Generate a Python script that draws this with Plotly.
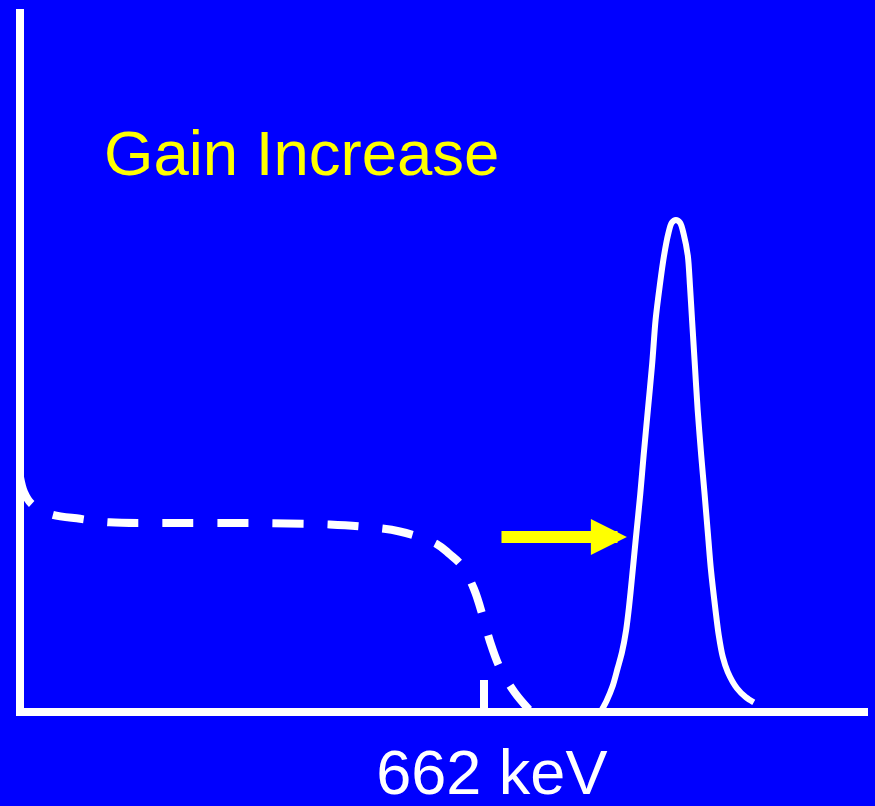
import plotly.graph_objects as go

# 컴프턴 연속 영역 (점선) - 에너지(keV), 계수
compton_kev = [0, 6, 17, 43, 86, 128, 200, 328, 442, 499, 542, 595, 613, 631,
               648, 661, 671, 685, 706, 729]
compton_cnt = [336, 313, 296, 282, 275, 270, 269, 269, 267, 263, 257, 239, 225,
               208, 175, 135, 100, 63, 28, 1]

# 이득 증가 후 광전 피크 (실선)
peak_kev = [829, 837, 846, 853, 859, 865, 869, 873, 879, 885, 890, 896, 902,
            907, 913, 919, 925, 930, 936, 942, 947, 953, 956, 959, 963, 967,
            972, 977, 982, 986, 992, 997, 1003, 1010, 1023, 1036, 1047]
peak_cnt = [1, 16, 38, 63, 85, 117, 149, 188, 249, 309, 366, 430, 494,
            558, 607, 649, 680, 696, 700, 696, 680, 649, 607, 558, 494, 430,
            366, 309, 249, 202, 149, 110, 78, 57, 34, 21, 14]

tick_vals = [662]
tick_text = ['662 keV']
title_text = 'Gain Increase'

# 화살표 (꼬리 -> 머리)
arrow_tail = (685, 249)
arrow_head = (866, 249)

BLUE = '#0000FF'
YELLOW = '#FFFF00'
FONT = 'Liberation Sans, Arial, sans-serif'

fig = go.Figure()
fig.add_trace(go.Scatter(x=compton_kev, y=compton_cnt, mode='lines',
                         line=dict(color='white', width=8, dash='31px,24px', shape='spline'),
                         hoverinfo='skip'))
fig.add_trace(go.Scatter(x=peak_kev, y=peak_cnt, mode='lines',
                         line=dict(color='white', width=6, shape='spline', smoothing=0.8),
                         hoverinfo='skip'))

fig.add_annotation(x=arrow_head[0], y=arrow_head[1], ax=arrow_tail[0], ay=arrow_tail[1],
                   xref='x', yref='y', axref='x', ayref='y', text='',
                   showarrow=True, arrowhead=2, arrowsize=0.6, arrowwidth=12,
                   arrowcolor=YELLOW)
fig.add_annotation(x=117, y=795, xref='x', yref='y', text=title_text,
                   showarrow=False, xanchor='left', yanchor='middle',
                   font=dict(family=FONT, size=63.5, color=YELLOW))

fig.update_layout(
    width=875, height=806,
    margin=dict(l=24, r=7, t=9, b=98),
    paper_bgcolor=BLUE, plot_bgcolor=BLUE,
    showlegend=False,
    font=dict(family=FONT, color='white'),
)
fig.update_xaxes(range=[6, 1210], showgrid=False, zeroline=False, automargin=False,
                 showline=True, linecolor='white', linewidth=8,
                 tickmode='array', tickvals=tick_vals, ticktext=tick_text,
                 ticks='inside', ticklen=28, tickwidth=8, tickcolor='white',
                 ticklabelstandoff=2, ticklabelshift=8,
                 tickfont=dict(family=FONT, size=63, color='white'))
fig.update_yaxes(range=[6, 1000], showgrid=False, zeroline=False, automargin=False,
                 showline=True, linecolor='white', linewidth=8,
                 showticklabels=False, ticks='')

fig.write_html('out.html', config={'displayModeBar': False},
               post_script="document.body.style.margin='0';"
                           "document.body.style.background='#0000FF';")
